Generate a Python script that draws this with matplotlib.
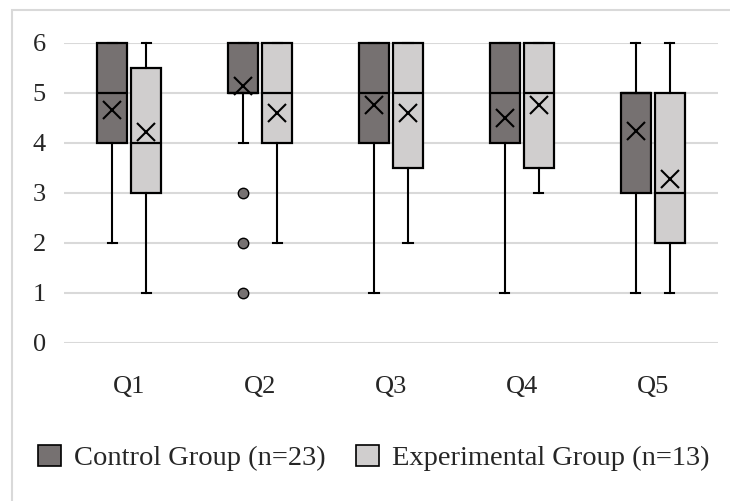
import matplotlib.pyplot as plt
from matplotlib.patches import Patch, Rectangle

questions = ['Q1', 'Q2', 'Q3', 'Q4', 'Q5']
groups = ['Control Group (n=23)', 'Experimental Group (n=13)']

# five-number summaries, plus mean and outliers
ctrl_low = [2, 4, 1, 1, 1]
ctrl_q1 = [4, 5, 4, 4, 3]
ctrl_med = [5, 5, 5, 5, 5]
ctrl_q3 = [6, 6, 6, 6, 5]
ctrl_high = [6, 6, 6, 6, 6]
ctrl_mean = [4.66, 5.13, 4.76, 4.5, 4.24]
ctrl_fliers = [[], [3, 2, 1], [], [], []]

exp_low = [1, 2, 2, 3, 1]
exp_q1 = [3, 4, 3.5, 3.5, 2]
exp_med = [4, 5, 5, 5, 3]
exp_q3 = [5.5, 6, 6, 6, 5]
exp_high = [6, 6, 6, 6, 6]
exp_mean = [4.22, 4.6, 4.6, 4.76, 3.28]
exp_fliers = [[], [], [], [], []]

colors = ['#767171', '#d0cece']

plt.rcParams['font.family'] = ['Liberation Serif', 'DejaVu Serif']

def make_stats(low, q1, med, q3, high, mean, fliers):
  out = []
  for i in range(len(low)):
    out.append({'whislo': low[i], 'q1': q1[i], 'med': med[i], 'q3': q3[i],
                'whishi': high[i], 'mean': mean[i], 'fliers': fliers[i]})
  return out

fig = plt.figure(figsize=(7.3, 5.01), dpi=100)
ax = fig.add_axes([0.0877, 0.3154, 0.8959, 0.5988])

# faint outer frame
fig.patches.append(Rectangle((12 / 730, -0.1), 1.2, 1 - 10 / 501 + 0.1,
                             transform=fig.transFigure, fill=False,
                             edgecolor='#d9d9d9', linewidth=1.5))

all_stats = [make_stats(ctrl_low, ctrl_q1, ctrl_med, ctrl_q3, ctrl_high, ctrl_mean, ctrl_fliers),
             make_stats(exp_low, exp_q1, exp_med, exp_q3, exp_high, exp_mean, exp_fliers)]
offsets = [-0.13, 0.13]
base = list(range(1, len(questions) + 1))

for k in range(2):
  pos = [b + offsets[k] for b in base]
  parts = ax.bxp(all_stats[k], positions=pos, widths=0.23, patch_artist=True,
                 showmeans=True, capwidths=0.07,
                 boxprops=dict(facecolor=colors[k], edgecolor='black', linewidth=1.6),
                 medianprops=dict(color='black', linewidth=1.6),
                 whiskerprops=dict(color='black', linewidth=1.5),
                 capprops=dict(color='black', linewidth=1.5),
                 meanprops=dict(marker='x', markeredgecolor='black', markersize=13,
                                markeredgewidth=1.5),
                 flierprops=dict(marker='o', markerfacecolor=colors[0],
                                 markeredgecolor='black', markersize=7.5,
                                 markeredgewidth=1.0),
                 zorder=3)
  for key in parts:
    for artist in parts[key]:
      artist.set_clip_on(False)

ax.set_xlim(0.5, 5.5)
ax.set_ylim(0, 6)
ax.set_yticks(range(0, 7))
ax.set_xticks(base)
ax.set_xticklabels(questions)
ax.yaxis.grid(True, color='#d9d9d9', linewidth=1.5, zorder=0)
ax.set_axisbelow(True)
for s in ax.spines.values():
  s.set_visible(False)
ax.tick_params(axis='both', length=0, labelsize=19, colors='#262626')
ax.tick_params(axis='y', pad=13)
ax.tick_params(axis='x', pad=24)

handles = [Patch(facecolor=colors[0], edgecolor='black', linewidth=1.2),
           Patch(facecolor=colors[1], edgecolor='black', linewidth=1.2)]
fig.legend(handles, groups, loc='center', bbox_to_anchor=(0.512, 0.086), ncol=2,
           frameon=False, fontsize=20.5, handlelength=0.8, handleheight=0.8,
           handletextpad=0.45, columnspacing=1.1, labelcolor='#262626')

plt.savefig('out.png', dpi=100)
